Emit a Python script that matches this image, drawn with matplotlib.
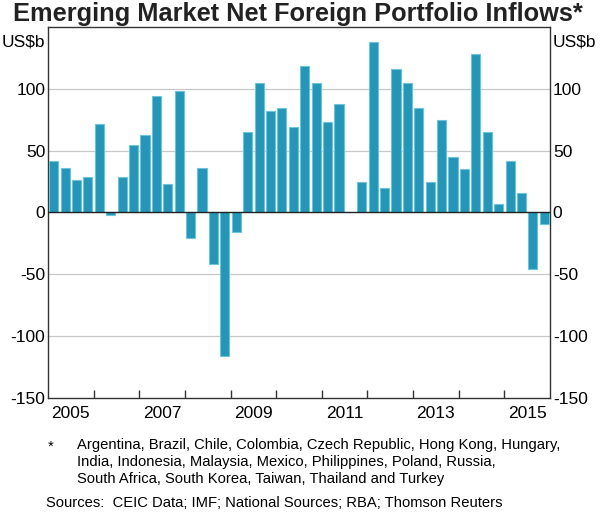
import numpy as np
import matplotlib
matplotlib.use("Agg")
import matplotlib.pyplot as plt
from matplotlib.transforms import blended_transform_factory

plt.rcParams['font.family'] = ['Liberation Sans', 'DejaVu Sans']

# Quarterly net inflows, US$b, 2005 Q1 to 2015 Q4
quarters = [f"{y}Q{q}" for y in range(2005, 2016) for q in range(1, 5)]
inflows = [42, 36, 26, 29, 72, -2, 29, 55, 63, 94, 23, 98,
           -21, 36, -42, -116, -16, 65, 105, 82, 85, 69, 119, 105,
           73, 88, 0, 25, 138, 20, 116, 105, 85, 25, 75, 45,
           35, 128, 65, 7, 42, 16, -46, -9]
year_labels = ['2005', '2007', '2009', '2011', '2013', '2015']
y_ticks = [-150, -100, -50, 0, 50, 100]

title = "Emerging Market Net Foreign Portfolio Inflows*"
note = ("Argentina, Brazil, Chile, Colombia, Czech Republic, Hong Kong, Hungary,\n"
        "India, Indonesia, Malaysia, Mexico, Philippines, Poland, Russia,\n"
        "South Africa, South Korea, Taiwan, Thailand and Turkey")
sources = "Sources:  CEIC Data; IMF; National Sources; RBA; Thomson Reuters"

bar_color = '#2596b7'
edge_color = '#6cc3dc'

fig = plt.figure(figsize=(6.0, 5.13), dpi=100)
ax = fig.add_axes([0.08, 0.2248, 0.8367, 0.722])

x = 2005 + np.arange(len(inflows)) / 4 + 0.125
ax.bar(x, inflows, width=0.25 * 0.8, color=bar_color, edgecolor=edge_color,
       linewidth=0.8, zorder=3)

ax.set_xlim(2005, 2016)
ax.set_ylim(-150, 150)

for v in [-100, -50, 50, 100]:
    ax.axhline(v, color='#c8c8c8', lw=0.9, zorder=1)
ax.axhline(0, color='#222222', lw=1.0, zorder=4)

# year boundary ticks and mid-year labels
ax.set_xticks(range(2006, 2016), minor=True)
ax.set_xticks([int(y) + 0.5 for y in year_labels])
ax.set_xticklabels(year_labels)
ax.tick_params(axis='x', which='major', length=0, labelsize=12.5, pad=6)
ax.tick_params(axis='x', which='minor', direction='in', length=6,
               width=1, color='#333333')

ax.set_yticks(y_ticks)
ax.set_yticklabels([str(v) for v in y_ticks])
ax.tick_params(axis='y', length=0, labelsize=12.5, pad=2,
               left=True, right=True, labelleft=True, labelright=True)

for s in ax.spines.values():
    s.set_color('#333333')
    s.set_linewidth(1.0)

tr = blended_transform_factory(ax.transAxes, ax.transData)
ax.text(-0.006, 138, "US$b", transform=tr, ha='right', va='center', fontsize=12.5)
ax.text(1.006, 138, "US$b", transform=tr, ha='left', va='center', fontsize=12.5)

fig.text(0.497, 0.997, title, ha='center', va='top', fontsize=18.3,
         fontweight='bold', color='#222222')

fig.text(0.08, 1 - 446.7 / 513, "*", ha='left', va='center', fontsize=10.6)
fig.text(0.128, 1 - 438 / 513, note, ha='left', va='top', fontsize=10.6,
         linespacing=1.25)
fig.text(0.076, 1 - 503.3 / 513, sources, ha='left', va='center', fontsize=10.6)

fig.savefig("out.png", dpi=100)
